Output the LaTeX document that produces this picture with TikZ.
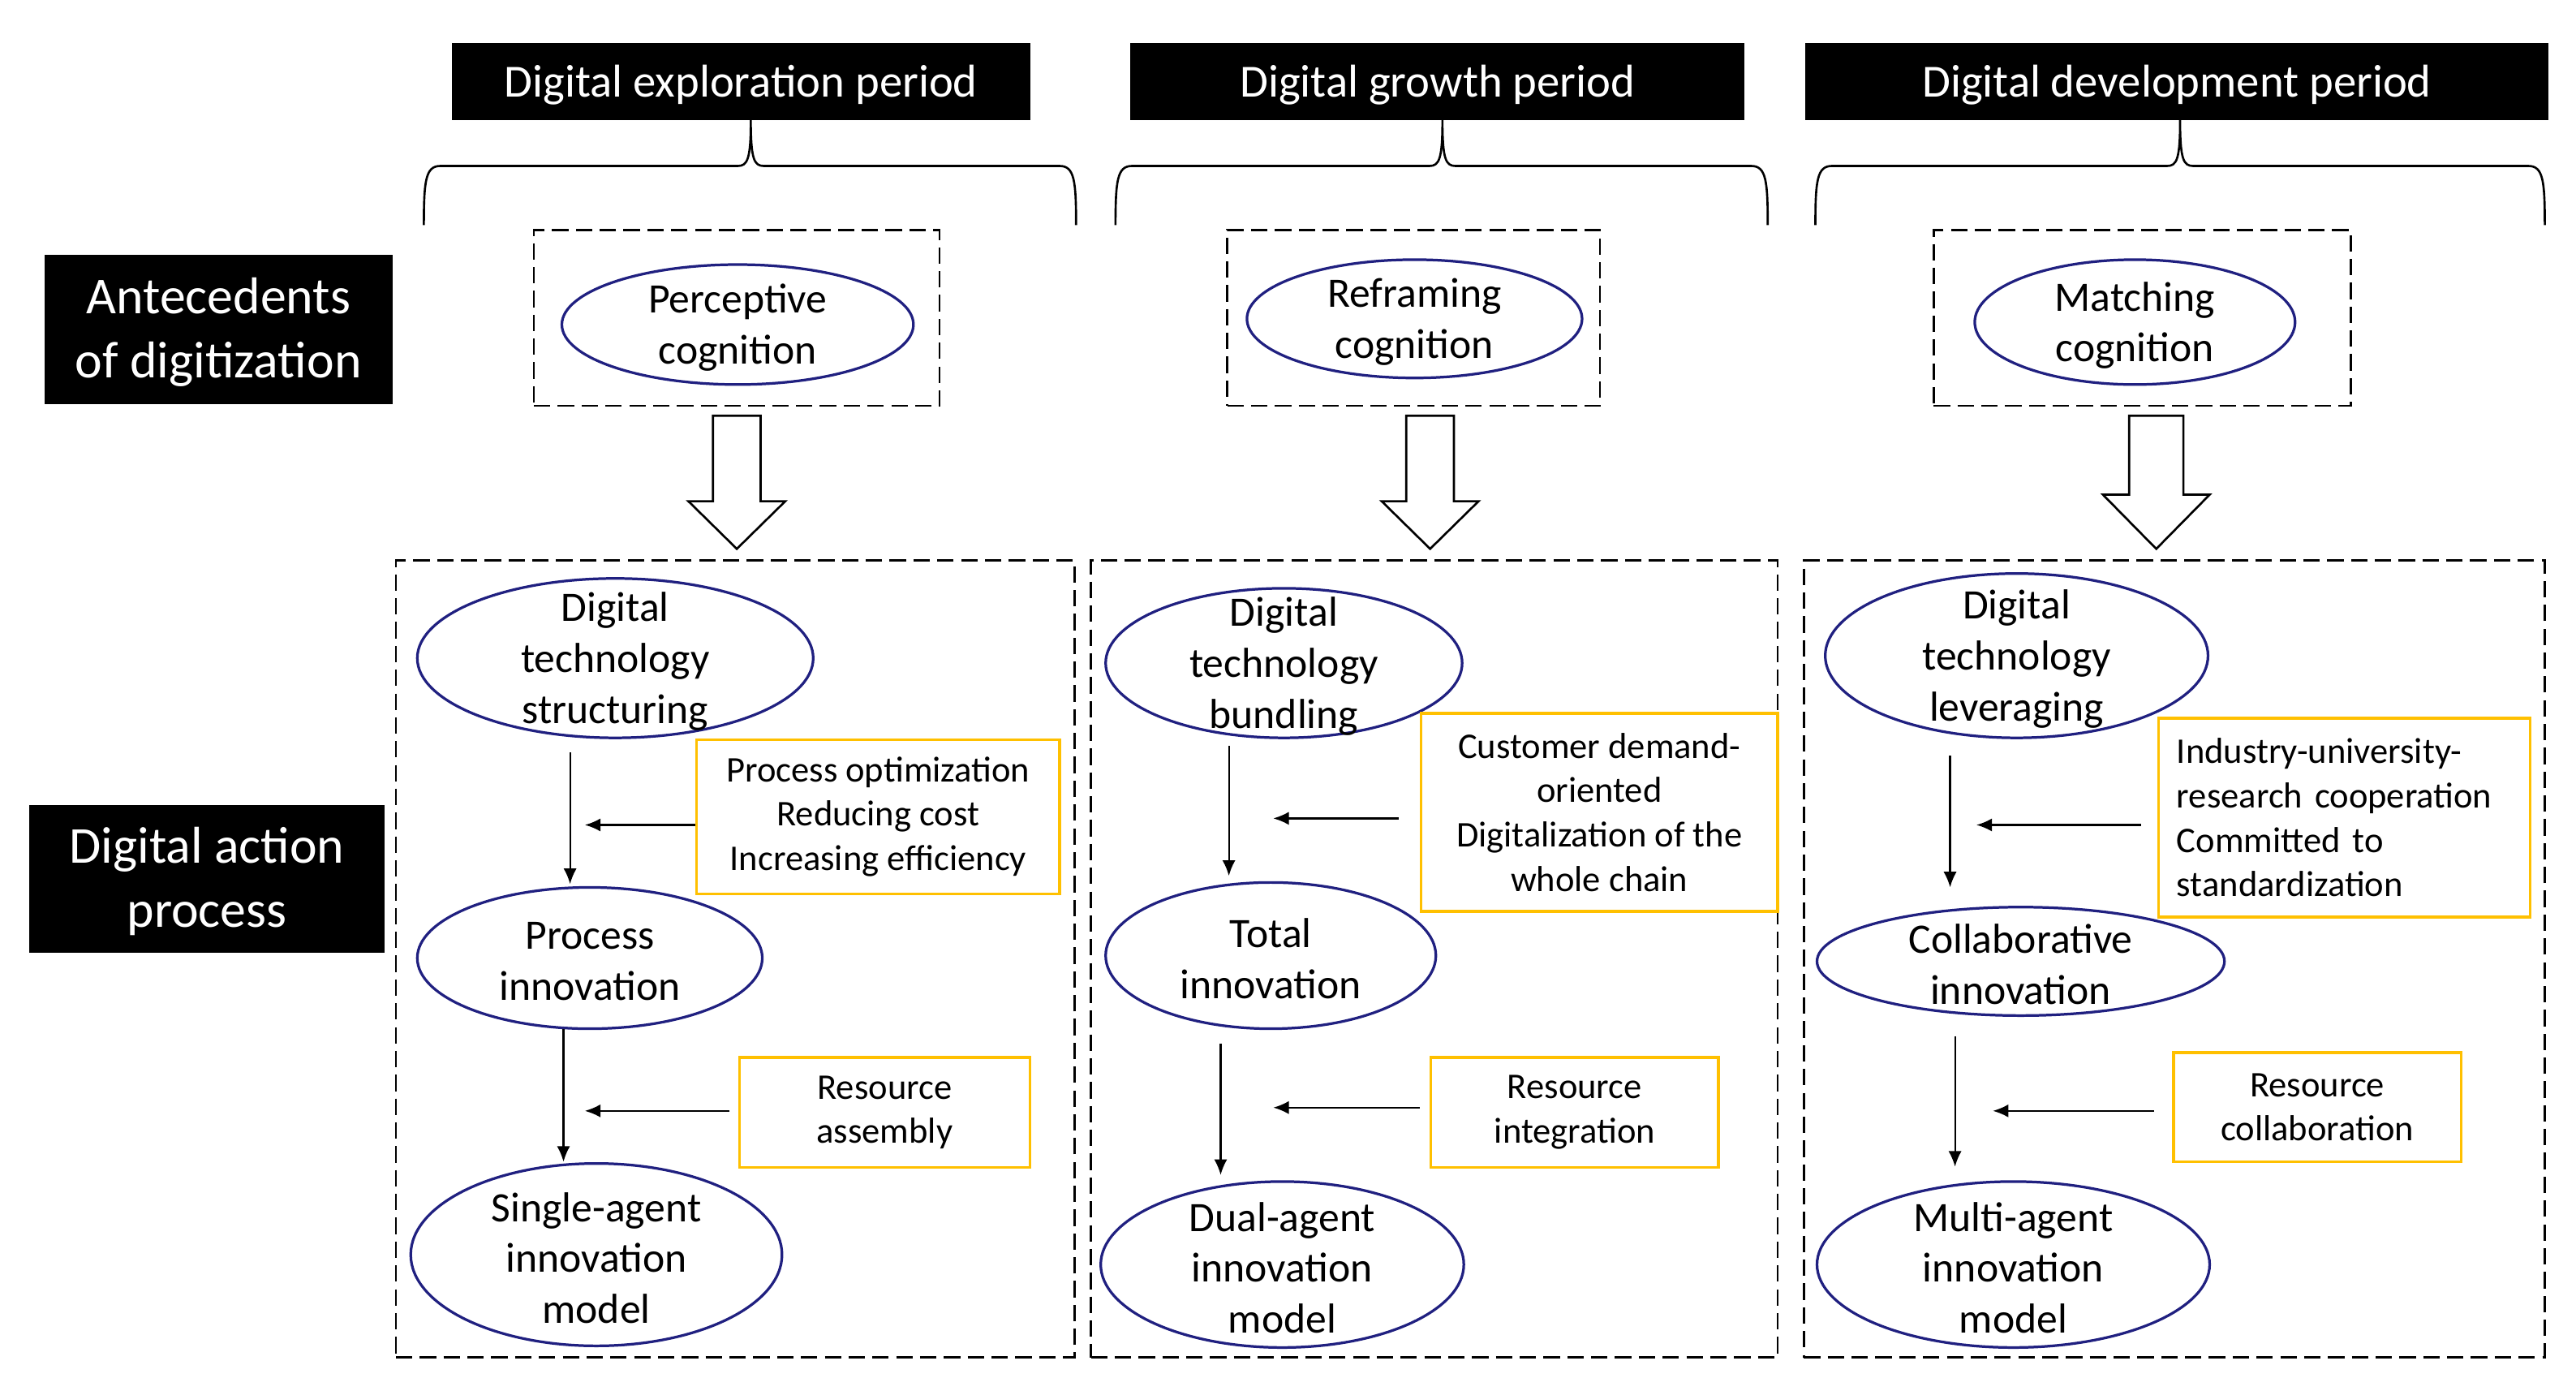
\documentclass[tikz,border=0pt]{standalone}
\usepackage{fontspec}
\setmainfont{Carlito}
\usetikzlibrary{shapes.geometric,arrows.meta}
\definecolor{navy}{RGB}{32,32,128}
\definecolor{gold}{RGB}{255,192,0}
\newcommand{\mybrace}[3]{%
\draw[bracestyle] (#1,137) .. controls (#1,110) and (#1+1,101) .. (#1+10,101) -- (#2-8,101) .. controls (#2-2,101) and (#2,97) .. (#2,73) .. controls (#2,97) and (#2+2,101) .. (#2+8,101) -- (#3-10,101) .. controls (#3-1,101) and (#3,110) .. (#3,137);}
\newcommand{\lowr}[1]{\raisebox{-2pt}[\height][\depth]{#1}}
\begin{document}
\begin{tikzpicture}[x=1pt,y=-1pt,
 title/.style={fill=black,text=white,inner sep=0pt,font=\fontsize{28}{34}\selectfont},
 side/.style={fill=black,text=white,inner sep=0pt,align=center,font=\fontsize{31.5}{39}\selectfont},
 ell/.style={ellipse,draw=navy,line width=1.6pt,inner sep=0pt},
 etxt/.style={inner sep=0pt,align=center,yshift=-2pt,font=\fontsize{25.5}{31}\selectfont},
 ybox/.style={draw=gold,line width=1.6pt,inner sep=0pt,align=center,font=\fontsize{22}{27}\selectfont},
 dbox/.style={draw,dash pattern=on 10pt off 4.5pt,line width=1.2pt,inner sep=0pt},
 arr/.style={-{Latex[length=9.5pt,width=8pt]},line width=1.1pt},
 bracestyle/.style={line width=1.3pt},
 blk/.style={draw,fill=white,line width=1.3pt,line join=miter}]
\useasboundingbox (0,0) rectangle (1568,846);

% period titles
\node[title,minimum width=352pt,minimum height=47pt] (t1) at (451,49.5) {\lowr{Digital exploration period}};
\node[title,minimum width=374pt,minimum height=47pt] (t2) at (875,49.5) {\lowr{Digital growth period}};
\node[title,minimum width=452pt,minimum height=47pt] (t3) at (1325,49.5) {\lowr{Digital development period}};

% braces
\mybrace{258}{457}{655}
\mybrace{679}{878}{1076}
\mybrace{1105}{1327}{1549}

% side labels
\node[side,minimum width=212pt,minimum height=91pt] (a1) at (133,200.5) {\lowr{\begin{tabular}{@{}c@{}}Antecedents\\of digitization\end{tabular}}};
\node[side,minimum width=216pt,minimum height=90pt] (a2) at (126,535) {\lowr{\begin{tabular}{@{}c@{}}Digital action\\process\end{tabular}}};

% antecedent dashed boxes
\node[dbox,minimum width=247pt,minimum height=107pt] (d1) at (448.5,193.5) {};
\node[dbox,minimum width=227pt,minimum height=107pt] (d2) at (860.5,193.5) {};
\node[dbox,minimum width=254pt,minimum height=107pt] (d3) at (1304,193.5) {};

% antecedent ellipses
\node[ell,minimum width=214pt,minimum height=73pt] (c1) at (449,197.5) {};
\node[etxt] (c1t) at (c1.center) {Perceptive\\cognition};
\node[ell,minimum width=204pt,minimum height=72pt] (c2) at (861,194) {};
\node[etxt] (c2t) at (c2.center) {Reframing\\cognition};
\node[ell,minimum width=195pt,minimum height=76pt] (c3) at (1299.5,196) {};
\node[etxt] (c3t) at (c3.center) {Matching\\cognition};

% block arrows
\draw[blk] (434,253) -- (463,253) -- (463,305) -- (478,305) -- (448.5,334) -- (419,305) -- (434,305) -- cycle;
\draw[blk] (856,253) -- (885,253) -- (885,305) -- (900,305) -- (870.5,334) -- (841,305) -- (856,305) -- cycle;
\draw[blk] (1296,253) -- (1329,253) -- (1329,301) -- (1345,301) -- (1312.5,334) -- (1280,301) -- (1296,301) -- cycle;

% action dashed boxes
\node[dbox,minimum width=413pt,minimum height=485pt] (D1) at (447.5,583.5) {};
\node[dbox,minimum width=418pt,minimum height=485pt] (D2) at (873,583.5) {};
\node[dbox,minimum width=451pt,minimum height=485pt] (D3) at (1323.5,583.5) {};

% column 1
\node[ell,minimum width=241pt,minimum height=97pt] (e11) at (374.5,400.5) {};
\node[etxt] (e11t) at (e11.center) {Digital\\technology\\structuring};
\node[ell,minimum width=210pt,minimum height=86pt] (e12) at (359,583) {};
\node[etxt] (e12t) at (e12.center) {Process\\innovation};
\node[ell,minimum width=226pt,minimum height=111pt] (e13) at (363,763.5) {};
\node[etxt] (e13t) at (e13.center) {Single-agent\\innovation\\model};
\node[ybox,minimum width=221pt,minimum height=94pt] (y11) at (534.5,497) {Process optimization\\Reducing cost\\Increasing efficiency};
\node[ybox,minimum width=177pt,minimum height=67pt] (y12) at (538.5,677) {Resource\\assembly};

% column 2
\node[ell,minimum width=217pt,minimum height=91pt] (e21) at (781.5,403.5) {};
\node[etxt] (e21t) at (e21.center) {Digital\\technology\\bundling};
\node[ell,minimum width=201pt,minimum height=89pt] (e22) at (773.5,581.5) {};
\node[etxt] (e22t) at (e22.center) {Total\\innovation};
\node[ell,minimum width=221pt,minimum height=101pt] (e23) at (780.5,769.5) {};
\node[etxt] (e23t) at (e23.center) {Dual-agent\\innovation\\model};
\node[ybox,minimum width=217pt,minimum height=120.5pt] (y21) at (973.5,494.3) {Customer demand-\\oriented\\Digitalization of the\\whole chain};
\node[ybox,minimum width=175pt,minimum height=67pt] (y22) at (958.5,677) {Resource\\integration};

% column 3
\node[ell,minimum width=233pt,minimum height=100pt] (e31) at (1227.5,399) {};
\node[etxt] (e31t) at (e31.center) {Digital\\technology\\leveraging};
\node[ell,minimum width=248pt,minimum height=66pt] (e32) at (1230,585) {};
\node[etxt] (e32t) at (e32.center) {Collaborative\\innovation};
\node[ell,minimum width=239pt,minimum height=101pt] (e33) at (1225.5,769.5) {};
\node[etxt] (e33t) at (e33.center) {Multi-agent\\innovation\\model};
\node[ybox,minimum height=121pt,text width=204pt,inner xsep=11pt,align=left] (y31) at (1427,497.5) {Industry-university-\\research cooperation\\Committed to\\standardization};
\node[ybox,minimum width=175pt,minimum height=66.5pt] (y32) at (1410.5,673.75) {Resource\\collaboration};

% arrow end points
\coordinate (v11a) at (347,458); \coordinate (v11b) at (347,538);
\coordinate (v12a) at (343,626); \coordinate (v12b) at (343,707);
\coordinate (h11) at (356,502); \coordinate (h12) at (356,676);
\coordinate (v21a) at (748,454); \coordinate (v21b) at (748,533);
\coordinate (v22a) at (743,635); \coordinate (v22b) at (743,715);
\coordinate (h21) at (775,498); \coordinate (h22) at (775,674);
\coordinate (v31a) at (1187,460); \coordinate (v31b) at (1187,540);
\coordinate (v32a) at (1190,630.5); \coordinate (v32b) at (1190,710);
\coordinate (h31) at (1203,502); \coordinate (h32) at (1213,676);

\draw[arr] (v11a) -- (v11b);
\draw[arr] (v12a) -- (v12b);
\draw[arr] (y11.west |- h11) -- (h11);
\draw[arr,shorten <=5pt] (y12.west |- h12) -- (h12);
\draw[arr] (v21a) -- (v21b);
\draw[arr] (v22a) -- (v22b);
\draw[arr,shorten <=13pt] (y21.west |- h21) -- (h21);
\draw[arr,shorten <=6pt] (y22.west |- h22) -- (h22);
\draw[arr] (v31a) -- (v31b);
\draw[arr] (v32a) -- (v32b);
\draw[arr,shorten <=10pt] (y31.west |- h31) -- (h31);
\draw[arr,shorten <=11pt] (y32.west |- h32) -- (h32);
\end{tikzpicture}
\end{document}
